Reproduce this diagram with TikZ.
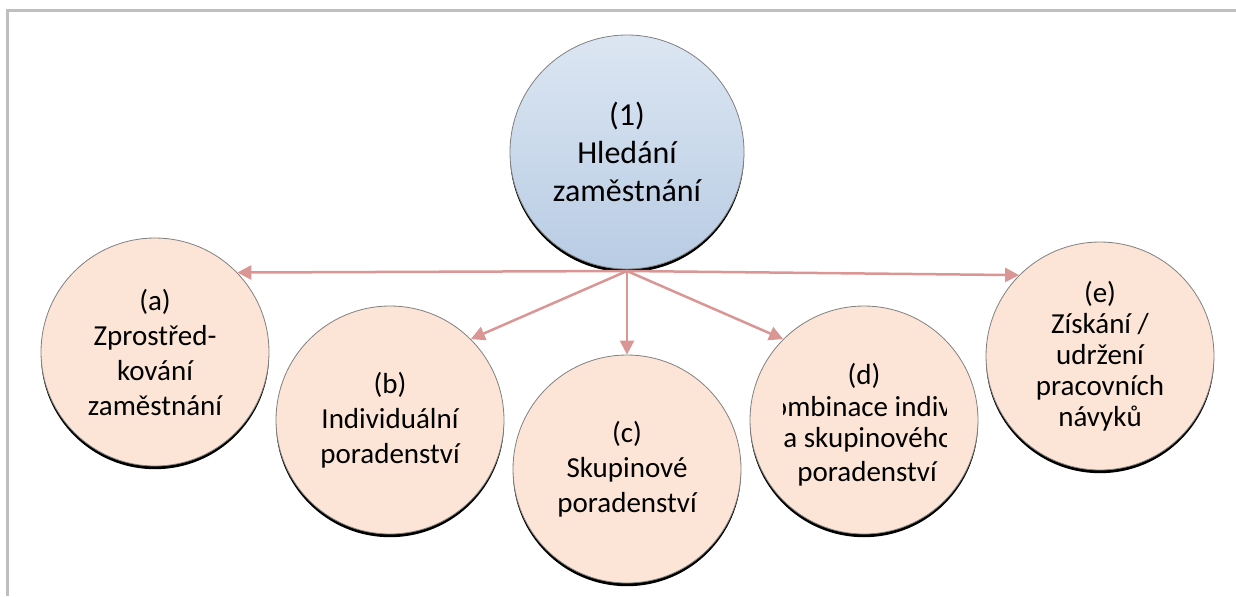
\documentclass[tikz,border=0pt]{standalone}
\usepackage{fontspec}
\setmainfont{Carlito}
\usetikzlibrary{arrows.meta,shadows}

\definecolor{peach}{RGB}{252,229,214}
\definecolor{rimgray}{RGB}{128,128,128}
\definecolor{linkred}{RGB}{217,150,148}
\definecolor{framegray}{RGB}{191,191,191}
\definecolor{hubtop}{RGB}{220,230,242}
\definecolor{hubbottom}{RGB}{184,204,228}

\begin{document}
\begin{tikzpicture}
[x=0.5pt, y=-0.5pt,
bubble/.style={circle, draw=rimgray, line width=0.4pt, fill=peach, inner sep=0pt,
    minimum size=114pt, align=center, font=\fontsize{14.5}{17.5}\selectfont,
    general shadow={fill=black, shadow yshift=-1.6pt}},
link/.style={draw=linkred, line width=1.25pt, -{Triangle[length=7pt,width=7pt]}},
dline/.style={font=\fontsize{14.5}{17.5}\selectfont, inner sep=0pt}]

\useasboundingbox (0,0) rectangle (1236,596);
\draw[framegray, line width=1.5pt] (7.5,596) -- (7.5,10.5) -- (1236,10.5);

% main goal
\node[bubble, minimum size=117pt, top color=hubtop, bottom color=hubbottom,
    font=\fontsize{16}{19}\selectfont] (one) at (627,152) {(1)\\Hledání\\zaměstnání};

% services
\node[bubble] (a) at (155,352) {(a)\\Zprostřed-\\kování\\zaměstnání};
\node[bubble] (b) at (390,420) {(b)\\Individuální\\poradenství};
\node[bubble] (c) at (627,469) {(c)\\Skupinové\\poradenství};
\node[bubble] (d) at (864,420) {};
\node[bubble, font=\fontsize{14.5}{15.5}\selectfont] (e) at (1100,356)
    {(e)\\Získání /\\udržení\\pracovních\\návyků};

% text of (d) does not fit its box
\begin{scope}
\clip (783,340) rectangle (946,500);
\node[dline, anchor=base] (dtitle) at (864,384) {(d)};
\node[dline, anchor=base west] (dline1) at (757,416) {Kombinace individuálního};
\node[dline, anchor=base west] (dline2) at (783,447) {a skupinového};
\node[dline, anchor=base] (dline3) at (867,481) {poradenství};
\end{scope}

\coordinate (hub) at (627,271);
\foreach \t/\a in {a/44, b/45, c/90, d/135, e/135} {
    \draw[link] (hub) -- (\t.\a);
}

\end{tikzpicture}
\end{document}
